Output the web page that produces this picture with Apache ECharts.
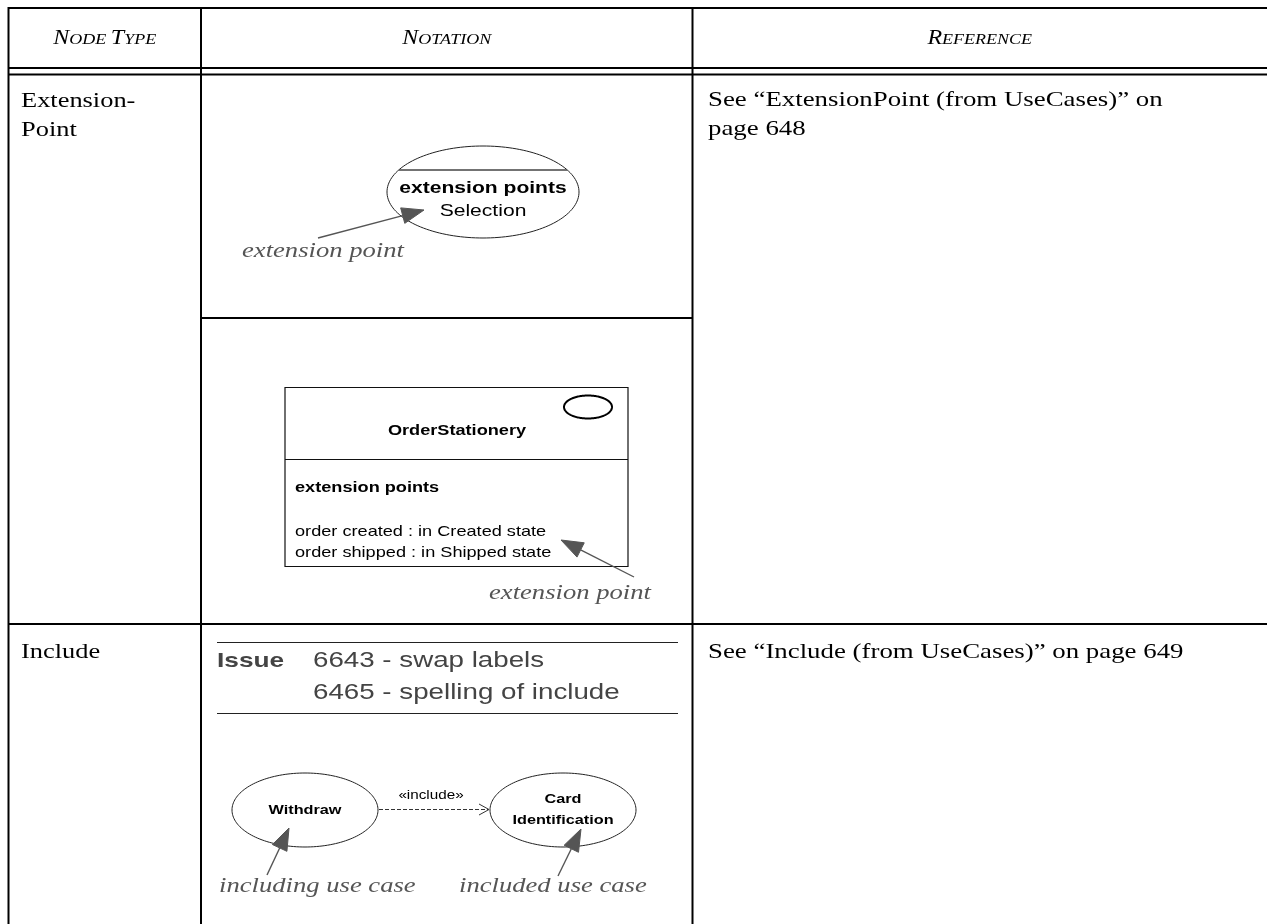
<!DOCTYPE html>
<html>
<head>
<meta charset="utf-8">
<script src="https://cdn.jsdelivr.net/npm/echarts@6/dist/echarts.min.js"></script>
<style>html,body{margin:0;padding:0;background:#fff}#c{width:1267px;height:924px}</style>
</head>
<body>
<div id="c"></div>
<script>
// ---- content (text) ----
const headers = ['Node Type', 'Notation', 'Reference'];
const nodeTypes = [['Extension-', 'Point'], ['Include']];
const references = [['See \u201cExtensionPoint (from UseCases)\u201d on', 'page 648'], ['See \u201cInclude (from UseCases)\u201d on page 649']];
const ellipseCompartment = ['extension points', 'Selection'];
const classifierName = 'OrderStationery';
const classifierCompartment = ['extension points', 'order created : in Created state', 'order shipped : in Shipped state'];
const annotationLabels = ['extension point', 'extension point', 'including use case', 'included use case'];
const issueLabel = 'Issue';
const issueLines = ['6643 - swap labels', '6465 - spelling of include'];
const useCases = [['Withdraw'], ['Card', 'Identification']];
const relationLabel = '\u00abinclude\u00bb';

const SERIF = '"Liberation Serif", "DejaVu Serif", serif';
const SANS = '"Liberation Sans", Arial, sans-serif';
const els = [];

function line(x1, y1, x2, y2, w, color, dash) {
  els.push({type: 'line', shape: {x1, y1, x2, y2}, style: {stroke: color || '#000', lineWidth: w || 1, lineDash: dash || null}, silent: true});
}
function text(str, x, y, opt, sx) {
  els.push({type: 'text', x, y, scaleX: sx || 1, style: Object.assign({text: str, fill: '#000', font: '19px ' + SERIF, textAlign: 'left', textVerticalAlign: 'middle'}, opt || {})});
}
function ellipse(cx, cy, rx, ry, w, color) {
  const pts = [];
  for (let i = 0; i < 160; i++) { const a = i / 160 * Math.PI * 2; pts.push([cx + rx * Math.cos(a), cy + ry * Math.sin(a)]); }
  els.push({type: 'polygon', shape: {points: pts}, style: {fill: 'none', stroke: color || '#000', lineWidth: w || 1}, silent: true});
}
function arrow(x1, y1, x2, y2) {
  const c = '#555';
  const dx = x2 - x1, dy = y2 - y1, L = Math.hypot(dx, dy), ux = dx / L, uy = dy / L;
  const hl = 22, hw = 8;
  const bx = x2 - ux * hl, by = y2 - uy * hl;
  line(x1, y1, bx, by, 1.4, c);
  els.push({type: 'polygon', shape: {points: [[x2, y2], [bx - uy * hw, by + ux * hw], [bx + uy * hw, by - ux * hw]]}, style: {fill: c, stroke: c, lineWidth: 1}, silent: true});
}
function smallCaps(str, cx, cy) {
  const parts = [];
  str.split(' ').forEach((word, wi) => {
    if (wi > 0) parts.push('{s| }');
    parts.push('{b|' + word[0].toUpperCase() + '}');
    if (word.length > 1) parts.push('{s|' + word.slice(1).toUpperCase() + '}');
  });
  els.push({type: 'text', x: cx, y: cy, scaleX: 1.2, style: {
    text: parts.join(''), textAlign: 'center', textVerticalAlign: 'middle',
    rich: {b: {font: 'italic 20px ' + SERIF, fill: '#000'}, s: {font: 'italic 15px ' + SERIF, fill: '#000', padding: [3, 0, 0, 0]}}
  }});
}

// ---- table grid ----
const X0 = 8.5, X1 = 201, X2 = 692.5, XR = 1267;
const LW = 2;
line(X0, 8, XR, 8, LW);
line(X0, 68, XR, 68, LW);
line(X0, 74.5, XR, 74.5, LW);
line(X0, 624, XR, 624, LW);
line(X0, 7, X0, 924, LW);
line(X1, 7, X1, 924, LW);
line(X2, 7, X2, 924, LW);
line(X1, 318, X2, 318, LW);

// headers
smallCaps(headers[0], (X0 + X1) / 2, 39);
smallCaps(headers[1], (X1 + X2) / 2, 39);
smallCaps(headers[2], (X2 + XR) / 2, 39);

const BODY = '22px ' + SERIF, BSX = 1.2;
// node types
nodeTypes[0].forEach((t, i) => text(t, 21, 101 + i * 29, {font: BODY}, BSX));
text(nodeTypes[1][0], 21, 652, {font: BODY}, BSX);

// references
references[0].forEach((t, i) => text(t, 708, 100 + i * 29, {font: BODY}, 1.22));
text(references[1][0], 708, 652, {font: BODY}, 1.22);

const LAB = 'italic 22px ' + SERIF, LSX = 1.21;
// ---- notation 1: use case ellipse with extension points ----
ellipse(483, 192, 96, 46, 1, '#222');
line(399, 170, 567, 170, 1.6, '#444');
text(ellipseCompartment[0], 483, 188, {font: 'bold 17px ' + SANS, textAlign: 'center'}, 1.24);
text(ellipseCompartment[1], 483, 211, {font: '17px ' + SANS, textAlign: 'center'}, 1.24);
arrow(318, 238, 424, 210);
text(annotationLabels[0], 242, 251, {font: LAB, fill: '#555'}, LSX);

// ---- notation 2: classifier rectangle ----
els.push({type: 'rect', shape: {x: 285, y: 387.5, width: 343, height: 179}, style: {fill: 'none', stroke: '#111', lineWidth: 1.2}, silent: true});
line(285, 459.5, 628, 459.5, 1.2, '#111');
ellipse(588, 407, 24, 11.5, 2);
text(classifierName, 457, 431, {font: 'bold 15px ' + SANS, textAlign: 'center'}, 1.21);
text(classifierCompartment[0], 295, 488, {font: 'bold 15px ' + SANS}, 1.21);
text(classifierCompartment[1], 295, 532, {font: '15px ' + SANS}, 1.21);
text(classifierCompartment[2], 295, 553, {font: '15px ' + SANS}, 1.21);
arrow(634, 577, 561, 540);
text(annotationLabels[1], 489, 593, {font: LAB, fill: '#555'}, LSX);

// ---- notation 3: include ----
line(217, 642.5, 678, 642.5, 1.2, '#222');
line(217, 713.5, 678, 713.5, 1.2, '#222');
text(issueLabel, 217, 661, {font: 'bold 21px ' + SANS, fill: '#444'}, 1.25);
issueLines.forEach((t, i) => text(t, 313, 661 + i * 32, {font: '22px ' + SANS, fill: '#444'}, 1.26));

ellipse(305, 810, 73, 37, 1, '#222');
ellipse(563, 810, 73, 37, 1, '#222');
text(useCases[0][0], 305, 810, {font: 'bold 13px ' + SANS, textAlign: 'center'}, 1.25);
text(useCases[1][0], 563, 799, {font: 'bold 13px ' + SANS, textAlign: 'center'}, 1.25);
text(useCases[1][1], 563, 820, {font: 'bold 13px ' + SANS, textAlign: 'center'}, 1.25);
line(379, 809.5, 488, 809.5, 1, '#333', [4, 2]);
line(489, 809.5, 479, 804, 1, '#333');
line(489, 809.5, 479, 815, 1, '#333');
text(relationLabel, 431, 796, {font: '12px ' + SANS, textAlign: 'center'}, 1.27);
arrow(267, 875, 289, 828);
arrow(558, 876, 581, 829);
text(annotationLabels[2], 219, 886, {font: LAB, fill: '#555'}, LSX);
text(annotationLabels[3], 459, 886, {font: LAB, fill: '#555'}, LSX);

const chart = echarts.init(document.getElementById('c'), null, {renderer: 'canvas'});
chart.setOption({backgroundColor: '#fff', animation: false, graphic: {elements: els}});
</script>
</body>
</html>
